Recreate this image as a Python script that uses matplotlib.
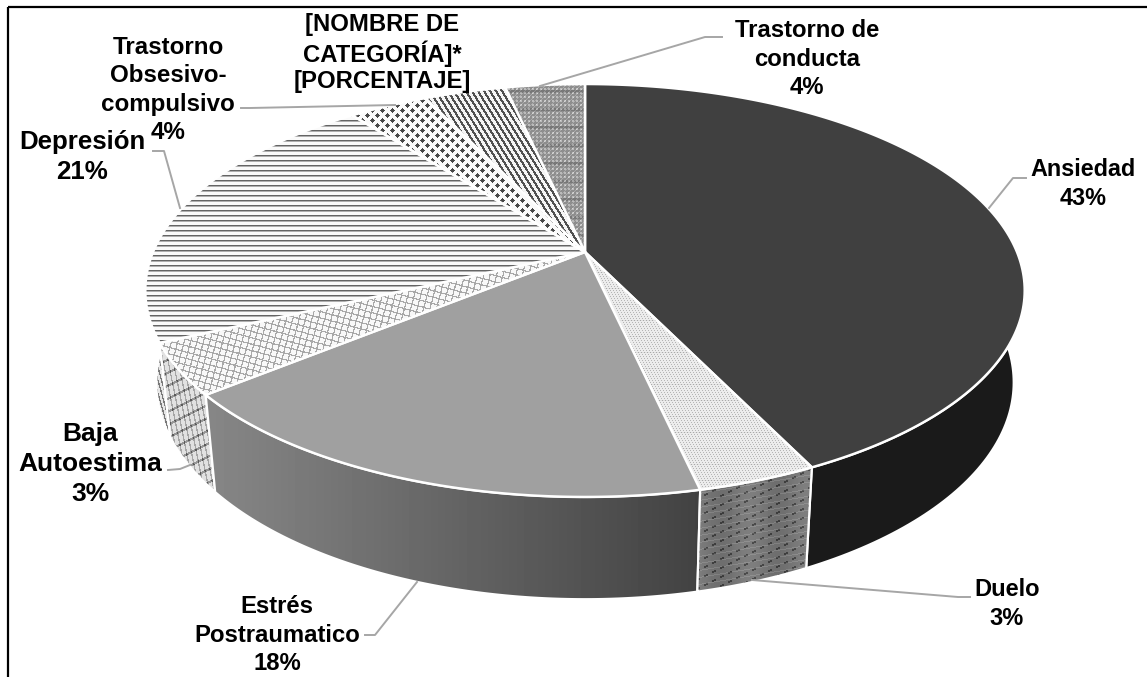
import numpy as np
import matplotlib
matplotlib.use("Agg")
import matplotlib.pyplot as plt
from matplotlib.patches import Polygon

categories = ["Ansiedad", "Duelo", "Estrés\nPostraumatico", "Baja\nAutoestima", "Depresión",
              "Trastorno\nObsesivo-\ncompulsivo", "[NOMBRE DE\nCATEGORÍA]*", "Trastorno de\nconducta"]
shares = [42.8, 3.7, 17.6, 4.0, 21.3, 3.5, 3.6, 3.5]
pct_labels = ["43%", "3%", "18%", "3%", "21%", "4%", "[PORCENTAJE]", "4%"]

W, H = 1147, 677
plt.rcParams["font.family"] = ["Liberation Sans", "DejaVu Sans"]
fig = plt.figure(figsize=(W / 100, H / 100), dpi=100, facecolor="white")
ax = fig.add_axes([0, 0, 1, 1])
ax.set_axis_off()

# projection of the tilted disc
CX, CY, A, B, K = 585.0, 252.0, 432.0, 199.3, 0.1864
SX, SY, D = 0.975, 1.05, 90.0


def top_xy(theta):
    x, y = np.sin(theta), np.cos(theta)
    w = 1 + K * y
    return CX + A * x / w, CY - B * y / w


def bottom_xy(theta):
    X, Y = top_xy(theta)
    return CX + SX * (X - CX), CY + D + SY * (Y - CY)


yy, xx = np.mgrid[0:H, 0:W]


def tex_duelo_top():
    return 236 - 55 * (((xx + yy) % 3 == 0) & (yy % 2 == 0)) - 12 * (yy % 16 == 0)


def tex_duelo_side():
    g = 118 + 8 * np.sin(xx / 9.0)
    g = g - 50 * ((xx // 2 + yy) % 9 < 2) * (xx % 8 < 4)
    g = g + 18 * ((yy + xx // 6) % 7 == 0)
    return g


def tex_baja_top():
    u = xx + 0.27 * yy
    v = yy - 0.27 * xx
    return 248 - 80 * ((u % 6.4 < 1.3) | (v % 6.4 < 1.3))


def tex_baja_side():
    u = xx - 0.2 * yy
    v = yy + 0.5 * xx
    return 225 - 60 * (u % 5 < 1.2) - 75 * (v % 13 < 2.2)


def tex_depresion_top():
    return 250 - 150 * (yy % 5 < 1) - 75 * (yy % 5 == 1)


def tex_depresion_side():
    return 230 - 110 * ((xx - 0.28 * yy) % 3.6 < 1.4)


def tex_toc():
    a = (xx + yy) % 10
    b = (xx - yy) % 10
    return np.where((a < 5) & (b < 5), 72, 250)


def tex_stripes():
    return np.where((xx - 0.62 * yy) % 6.0 < 2.6, 80, 245)


def tex_conducta():
    return 142 + 45 * ((xx % 4 < 2) & (yy % 4 < 2)) + 28 * ((xx + yy) % 5 == 0) - 22 * ((yy // 3) % 6 == 0)


def tex_flat(v):
    return lambda: np.full(xx.shape, v, dtype=float)


def tex_gradient():
    return 135 - (xx - 205) * (135 - 66) / 495.0


top_styles = [tex_flat(64), tex_duelo_top, tex_flat(160), tex_baja_top, tex_depresion_top,
              tex_toc, tex_stripes, tex_conducta]
side_styles = [tex_flat(26), tex_duelo_side, tex_gradient, tex_baja_side, tex_depresion_side,
               tex_flat(90), tex_flat(90), tex_flat(90)]

edges = np.cumsum([0] + shares) / np.sum(shares) * 2 * np.pi


def paint(verts, tex, z, lw):
    poly = Polygon(verts, closed=True, facecolor="none", edgecolor="none", zorder=z)
    ax.add_patch(poly)
    im = ax.imshow(np.clip(tex(), 0, 255), cmap="gray", vmin=0, vmax=255, extent=(0, W, H, 0),
                   interpolation="bilinear", zorder=z, aspect="auto")
    im.set_clip_path(poly)
    ax.add_patch(Polygon(verts, closed=True, facecolor="none", edgecolor="white",
                         linewidth=lw, joinstyle="round", zorder=z + 0.1))


# side walls, back to front
order = [5, 6, 7, 4, 3, 0, 2, 1]
for n, i in enumerate(order):
    t = np.linspace(edges[i], edges[i + 1], 160)
    tx, ty = top_xy(t)
    bx, by = bottom_xy(t)
    verts = np.column_stack([np.r_[tx, bx[::-1]], np.r_[ty, by[::-1]]])
    paint(verts, side_styles[i], 2 + n * 0.2, 1.6)

# top faces
for i in range(len(shares)):
    t = np.linspace(edges[i], edges[i + 1], 160)
    tx, ty = top_xy(t)
    verts = np.column_stack([np.r_[CX, tx], np.r_[CY, ty]])
    paint(verts, top_styles[i], 5 + i * 0.2, 1.8)

ax.set_xlim(0, W)
ax.set_ylim(H, 0)

# frame: top and left rules only
ax.plot([8, W], [6.5, 6.5], color="black", lw=1.6, zorder=1, solid_capstyle="butt")
ax.plot([8, 8], [6.5, H], color="black", lw=1.6, zorder=1, solid_capstyle="butt")

# leader lines
leaders = [
    [(1026, 178), (1013, 178), (989, 208)],
    [(970, 597), (958, 597), (752, 580)],
    [(365, 635), (375, 635), (417, 582)],
    [(168, 470), (180, 469), (190, 465)],
    [(153, 151), (164, 151), (180, 208)],
    [(241, 108), (250, 108), (395, 105)],
    [(722, 37), (705, 37), (540, 86)],
]
for pts in leaders:
    p = np.array(pts)
    ax.plot(p[:, 0], p[:, 1], color="#a6a6a6", lw=1.4, zorder=8, solid_joinstyle="round")

# labels
label_spots = [
    (1083, 184, 16.8, 1.31), (1007, 604, 17.0, 1.31), (277, 635, 17.2, 1.31), (90, 464, 19.0, 1.31),
    (82, 157, 18.6, 1.31), (168, 90, 17.4, 1.31), (382, 53, 17.2, 1.2), (807, 59, 17.2, 1.31),
]
for name, pct, (x, y, fs, ls) in zip(categories, pct_labels, label_spots):
    ax.text(x, y, name + "\n" + pct, ha="center", va="center", fontsize=fs, fontweight="bold",
            color="black", linespacing=ls, zorder=10)

fig.savefig("out.png", dpi=100, facecolor="white")
